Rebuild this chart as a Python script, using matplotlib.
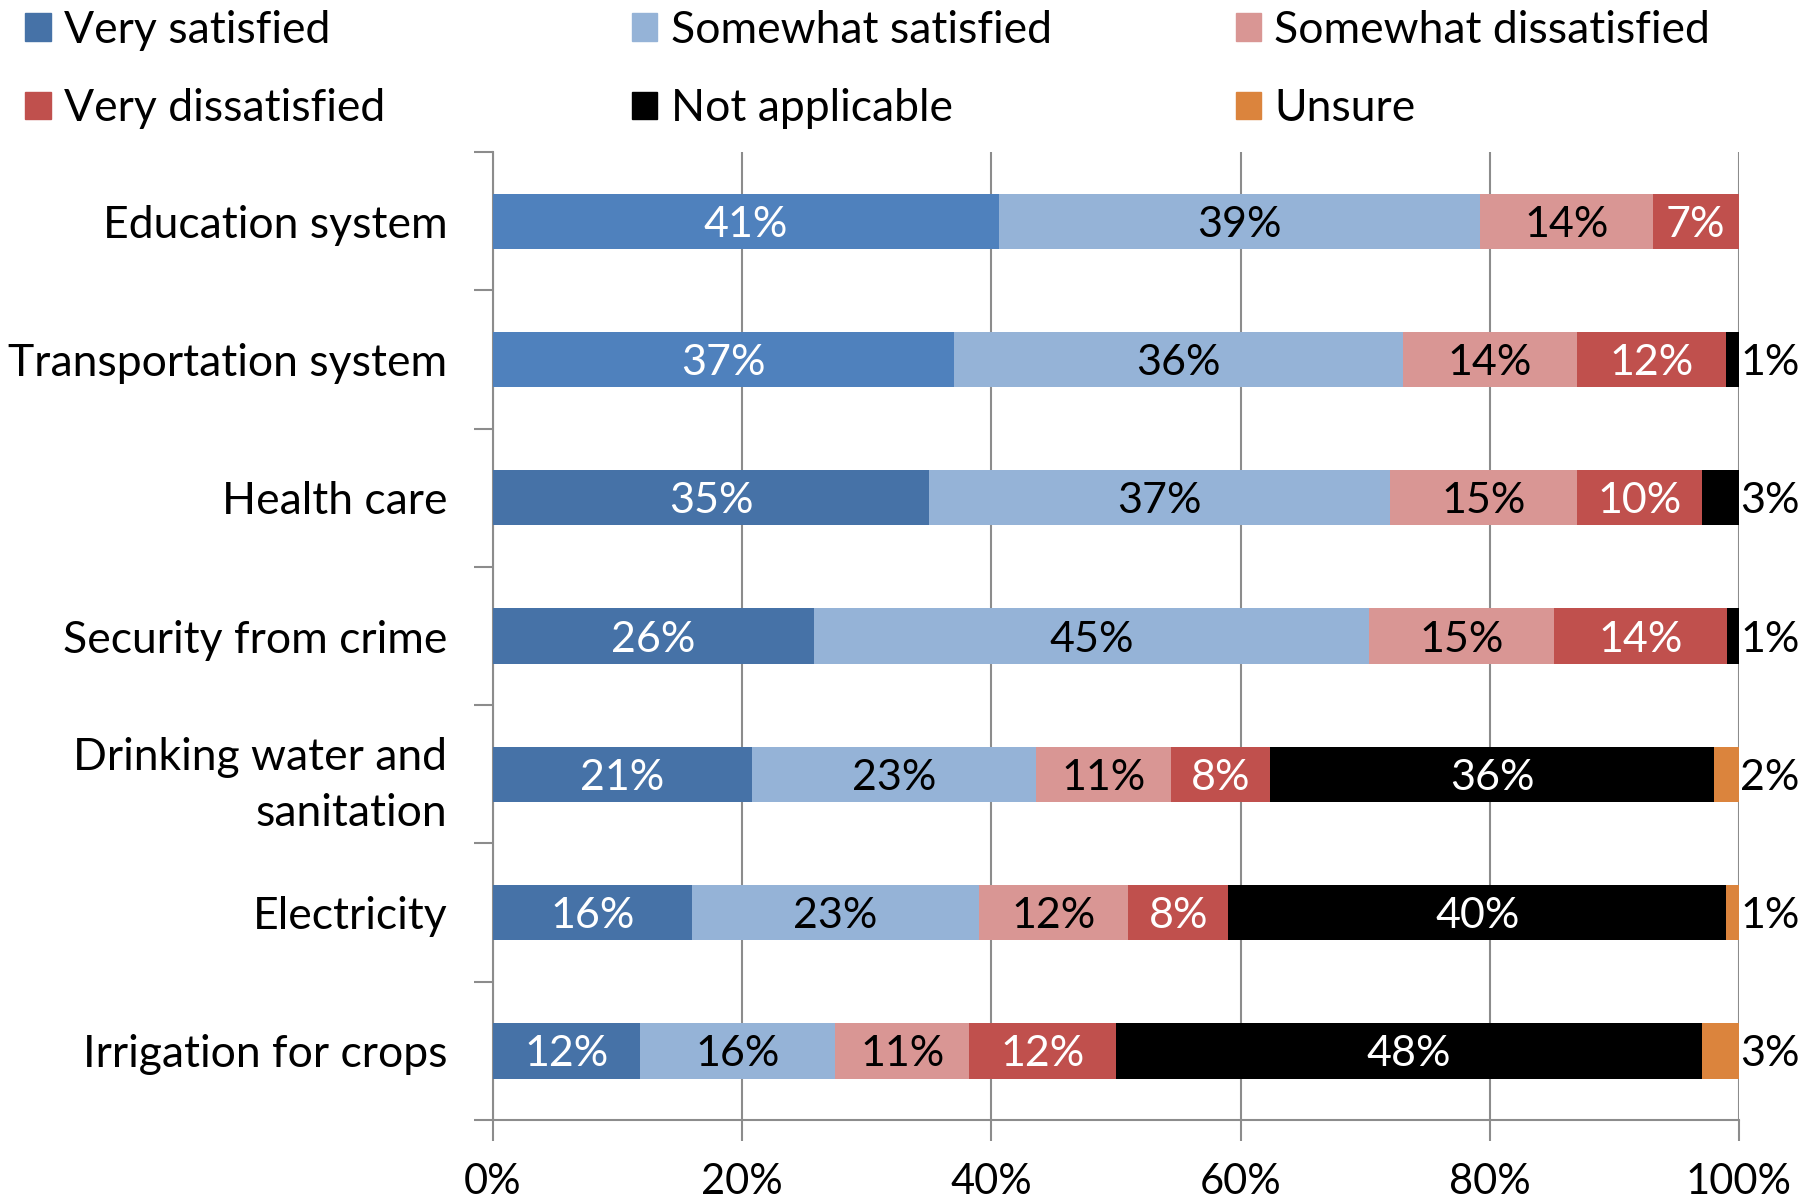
import matplotlib.pyplot as plt
from matplotlib.patches import Patch
from matplotlib.ticker import FixedLocator, PercentFormatter
import numpy as np

plt.rcParams['font.family'] = ['Lato', 'DejaVu Sans']

categories = ["Education system", "Transportation system", "Health care",
              "Security from crime", "Drinking water and\nsanitation",
              "Electricity", "Irrigation for crops"]
series = ["Very satisfied", "Somewhat satisfied", "Somewhat dissatisfied",
          "Very dissatisfied", "Not applicable", "Unsure"]

very_satisfied = [41, 37, 35, 26, 21, 16, 12]
somewhat_satisfied = [39, 36, 37, 45, 23, 23, 16]
somewhat_dissatisfied = [14, 14, 15, 15, 11, 12, 11]
very_dissatisfied = [7, 12, 10, 14, 8, 8, 12]
not_applicable = [0, 1, 3, 1, 36, 40, 48]
unsure = [0, 0, 0, 0, 2, 1, 3]

colors = ["#4672A7", "#95B3D7", "#D99694", "#C0504D", "#000000", "#DB843D"]
text_colors = ["white", "black", "black", "white", "white", "black"]

data = np.array([very_satisfied, somewhat_satisfied, somewhat_dissatisfied,
                 very_dissatisfied, not_applicable, unsure], dtype=float)
shares = data / data.sum(axis=0) * 100

fig = plt.figure(figsize=(18.08, 12.02), dpi=100)
ax = fig.add_axes([0.2727, 0.0682, 0.6891, 0.8053])

y = np.arange(len(categories))
left = np.zeros(len(categories))
for k in range(len(series)):
    col = [colors[k]] * len(categories)
    if k == 0:
        # first two bars use the lighter blue in the source
        col[0] = col[1] = "#4F81BD"
    ax.barh(y, shares[k], left=left, height=0.4, color=col, zorder=3)
    for i in range(len(categories)):
        v = data[k, i]
        if v == 0:
            continue
        if v >= 5:
            ax.text(left[i] + shares[k, i] / 2, y[i], "%d%%" % v,
                    ha="center", va="center_baseline", color=text_colors[k],
                    fontsize=31, zorder=4)
        else:
            ax.text(100.1, y[i], "%d%%" % v, ha="left", va="center_baseline",
                    color="black", fontsize=31, zorder=4)
    left += shares[k]

ax.set_xlim(0, 100)
ax.set_ylim(len(categories) - 0.5, -0.5)
ax.set_xticks(np.arange(0, 101, 20))
ax.xaxis.set_major_formatter(PercentFormatter(decimals=0))
ax.set_yticks(y)
ax.set_yticklabels(categories, fontsize=32, ha="right", linespacing=1.45)
ax.yaxis.set_minor_locator(FixedLocator(np.arange(-0.5, len(categories), 1)))
ax.tick_params(axis="y", which="major", length=0, pad=33)
ax.tick_params(axis="y", which="minor", length=14, width=1.5, color="#8C8C8C")
ax.tick_params(axis="x", length=15, width=1.5, color="#8C8C8C", pad=16,
               labelsize=30)
ax.grid(axis="x", color="#8C8C8C", linewidth=1.5, zorder=0)
for s in ["top", "right"]:
    ax.spines[s].set_visible(False)
for s in ["left", "bottom"]:
    ax.spines[s].set_color("#8C8C8C")
    ax.spines[s].set_linewidth(1.5)

# legend: three columns of two rows each
handles = [Patch(color=c) for c in colors]
for col_i, x0 in enumerate([0.014, 0.3495, 0.6835]):
    idx = [col_i, col_i + 3]
    fig.legend([handles[i] for i in idx], [series[i] for i in idx],
               loc="upper left", bbox_to_anchor=(x0, 0.992), frameon=False,
               fontsize=32, handlelength=0.57, handleheight=0.57,
               handletextpad=0.3, labelspacing=0.84, borderpad=0,
               borderaxespad=0)

fig.savefig("out.png", dpi=100)
